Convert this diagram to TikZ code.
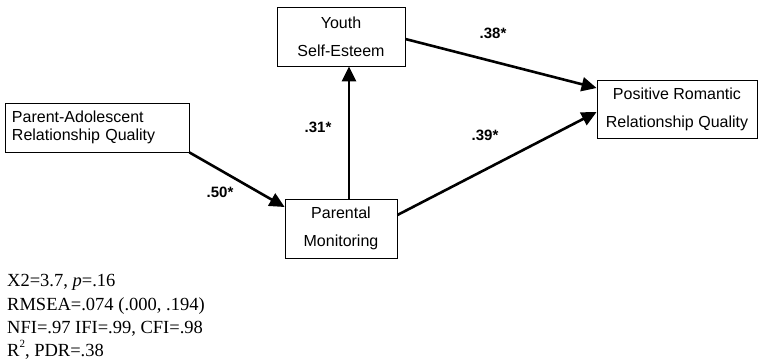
\documentclass[tikz,border=0pt]{standalone}
\usepackage{fontspec}
\setmainfont{Liberation Serif}
\setsansfont{Liberation Sans}
\usetikzlibrary{arrows.meta}
\begin{document}
\begin{tikzpicture}[x=1pt,y=-1pt,
  box/.style={draw,line width=0.8pt,inner sep=0pt,font=\sffamily\fontsize{16}{28}\selectfont,align=center},
  path/.style={line width=2.6pt,-{Triangle[length=15pt,width=14pt]}},
  coef/.style={font=\sffamily\bfseries\fontsize{15}{16}\selectfont},
  stat/.style={anchor=base west,inner sep=0pt,font=\fontsize{18.5}{20}\selectfont}]
\useasboundingbox (0,0) rectangle (758,360);
\node[box,minimum width=184pt,minimum height=49pt,align=left,text width=170pt,font=\sffamily\fontsize{16}{18}\selectfont] (pa) at (97,127.5) {Parent-Adolescent\\Relationship Quality};
\node[box,minimum width=128pt,minimum height=59pt] (yse) at (341,36.5) {Youth\\Self-Esteem};
\node[box,minimum width=160pt,minimum height=58pt] (prq) at (677,109) {Positive Romantic\\Relationship Quality};
\node[box,minimum width=112pt,minimum height=59pt] (pm) at (341,228.5) {Parental\\Monitoring};
\draw[path] (pa.south east) -- ([yshift=21.5pt]pm.west);
\draw[path] ([xshift=8pt]pm.north) -- ([xshift=8pt]yse.south);
\draw[path] ([yshift=-2.5pt]yse.east) -- ([yshift=21pt]prq.west);
\draw[path] ([yshift=13.5pt]pm.east) -- ([yshift=-3pt]prq.west);
\node[coef] (c50) at (220,192) {.50*};
\node[coef] (c31) at (318,127) {.31*};
\node[coef] (c38) at (493,33) {.38*};
\node[coef] (c39) at (485,135) {.39*};
\node[stat] (s1) at (7,286) {X2=3.7, \textit{p}=.16};
\node[stat] (s2) at (7,310) {RMSEA=.074 (.000, .194)};
\node[stat] (s3) at (7,333.5) {NFI=.97 IFI=.99, CFI=.98};
\node[stat] (s4) at (7,356) {R\raisebox{0.95ex}{\fontsize{11}{12}\selectfont 2}, PDR=.38};
\end{tikzpicture}
\end{document}
